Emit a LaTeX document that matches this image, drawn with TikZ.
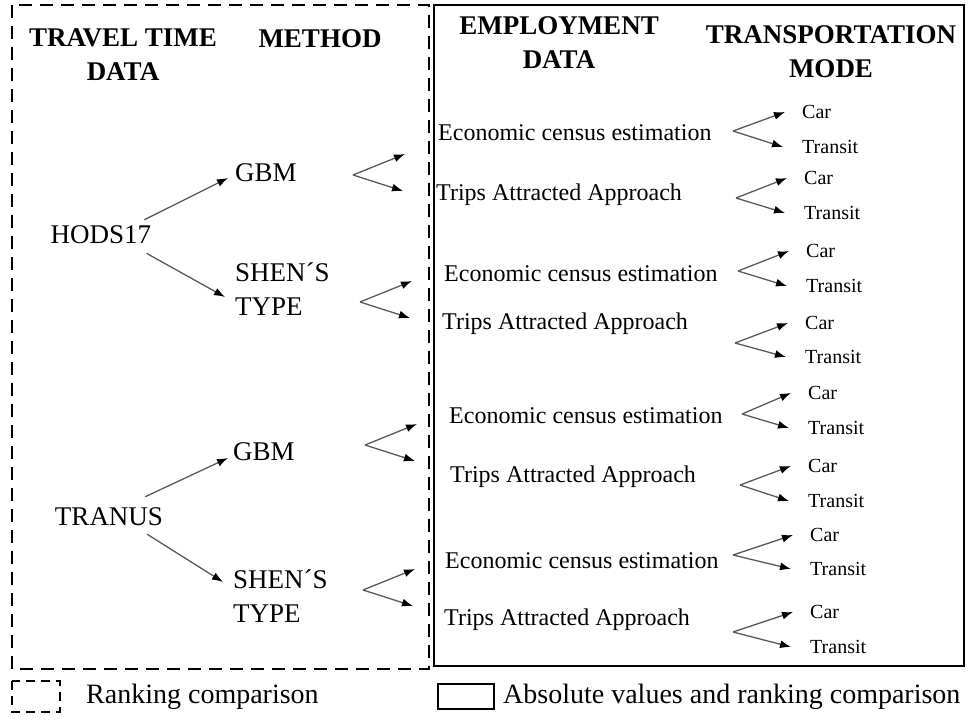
\documentclass[tikz,border=0pt]{standalone}
\usepackage{fontspec}
\setmainfont{Liberation Serif}
\usetikzlibrary{arrows.meta}

\begin{document}
\begin{tikzpicture}[x=1pt,y=-1pt]
        \tikzstyle{every node}=[inner sep=0pt]
        \tikzstyle{head}=[font=\fontsize{27}{34}\selectfont\bfseries,align=center]
        \tikzstyle{lbl}=[font=\fontsize{27}{34}\selectfont,align=left]
        \tikzstyle{emp}=[font=\fontsize{24}{29}\selectfont,anchor=west]
        \tikzstyle{mode}=[font=\fontsize{20}{24}\selectfont,anchor=west]
        \tikzstyle{leg}=[font=\fontsize{28}{34}\selectfont,anchor=west]
        \tikzstyle{arr}=[draw=black!65,line width=1.3pt,-{Latex[length=11pt,width=8pt,color=black]}]
        \tikzstyle{dashbox}=[line width=2.6pt,dash pattern=on 13pt off 8pt]
        \tikzstyle{solidbox}=[line width=2.6pt]

        \useasboundingbox (0,0) rectangle (970,721);

        % frames
        \draw[dashbox] (12,5) rectangle (429,669);
        \draw[solidbox] (434,5) rectangle (964,666);

        % column titles
        \node[head] (ttd) at (123,55) {TRAVEL TIME\\DATA};
        \node[head] (meth) at (320,39) {METHOD};
        \node[head] (empd) at (559,43) {EMPLOYMENT\\DATA};
        \node[head] (tmode) at (831,52) {TRANSPORTATION\\MODE};

        % travel time data and method
        \node[lbl] (hods) at (101,235) {HODS17};
        \node[lbl] (tranus) at (109,517) {TRANUS};
        \node[lbl,anchor=west] (gbmA) at (235,173) {GBM};
        \node[lbl,anchor=west] (shenA) at (235,289) {SHEN´S\\TYPE};
        \node[lbl,anchor=west] (gbmB) at (233,452) {GBM};
        \node[lbl,anchor=west] (shenB) at (233,596) {SHEN´S\\TYPE};

        \draw[arr] ([xshift=-7pt,yshift=6pt]hods.north east) to ([xshift=-7pt,yshift=-5pt]gbmA.west);     % HODS17->GBM
        \draw[arr] ([xshift=-5pt,yshift=-9pt]hods.south east) to ([xshift=-10pt,yshift=-8pt]shenA.west);  % HODS17->SHEN
        \draw[arr] ([xshift=-18pt,yshift=11pt]tranus.north east) to ([xshift=-5pt,yshift=-6pt]gbmB.west);  % TRANUS->GBM
        \draw[arr] ([xshift=-16pt,yshift=-8pt]tranus.south east) to ([xshift=-10pt,yshift=14pt]shenB.west); % TRANUS->SHEN

        % method -> employment data
        \foreach \n/\bx/\by in {bgA/353/175, bsA/360/302, bgB/365/445, bsB/363/590} {
            \coordinate (\n) at (\bx,\by);
            \coordinate (\n up) at (\bx+52,\by-21);
            \coordinate (\n dn) at (\bx+50,\by+16);
            \draw[arr] (\n) to (\n up);
            \draw[arr] (\n) to (\n dn);
        };

        % employment data
        \node[emp] (ecoA) at (438,133) {Economic census estimation};
        \node[emp] (tripA) at (436,195) {Trips Attracted Approach};
        \node[emp] (ecoB) at (444,274) {Economic census estimation};
        \node[emp] (tripB) at (442,324) {Trips Attracted Approach};
        \node[emp] (ecoC) at (449,416) {Economic census estimation};
        \node[emp] (tripC) at (450,477) {Trips Attracted Approach};
        \node[emp] (ecoD) at (445,561) {Economic census estimation};
        \node[emp] (tripD) at (444,620) {Trips Attracted Approach};

        % transportation mode
        \foreach \i/\bx/\by/\tx/\cy/\ty in {1/733/131/802/112/147, 2/736/198/804/178/213,
                3/738/271/806/251/286, 4/735/343/805/323/357, 5/742/414/808/393/428,
                6/740/485/808/466/501, 7/733/555/810/535/569, 8/733/632/810/612/647} {
            \coordinate (mb\i) at (\bx,\by);
            \node[mode] (car\i) at (\tx,\cy) {Car};
            \node[mode] (transit\i) at (\tx,\ty) {Transit};
            \draw[arr] (mb\i) to ([xshift=-17pt]car\i.west);
            \draw[arr] (mb\i) to ([xshift=-19pt]transit\i.west);
        };

        % legend
        \draw[line width=2pt,dash pattern=on 9pt off 6pt] (12,681) rectangle (60,712);
        \node[leg] (rank) at (86,697) {Ranking comparison};
        \draw[line width=2pt] (438,684) rectangle (494,709);
        \node[leg] (absval) at (503,697) {Absolute values and ranking comparison};
\end{tikzpicture}
\end{document}
